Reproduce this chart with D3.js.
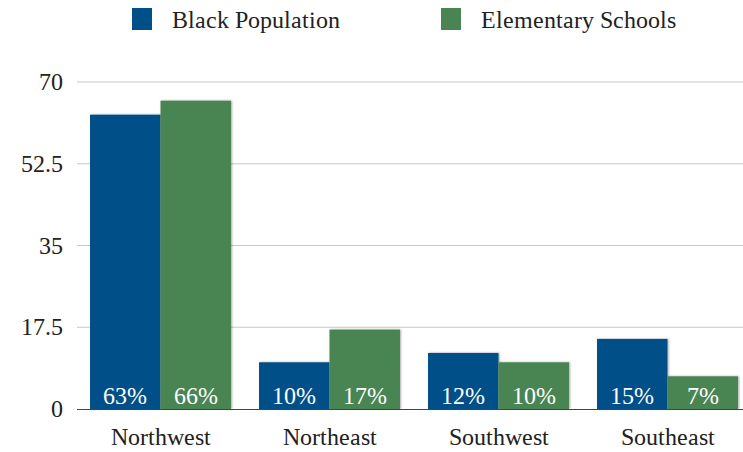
<!DOCTYPE html>
<html><head><meta charset="utf-8">
<script src="https://cdn.jsdelivr.net/npm/d3@7"></script>
<style>
@font-face{font-family:"RefSerif";src:local("Liberation Serif"),local("LiberationSerif"),local("Liberation Serif Regular"),local("LiberationSerif-Regular");}
body{margin:0;background:#fff;}
svg text{font-family:"RefSerif","Liberation Serif","Times New Roman",serif;}
</style>
</head><body>
<script>
const categories = ["Northwest","Northeast","Southwest","Southeast"];
const seriesNames = ["Black Population","Elementary Schools"];
const blackPop = [63,10,12,15];
const elemSchools = [66,17,10,7];
const yTicks = [0,17.5,35,52.5,70];
const colors = ["#005088","#4a8452"];

const W=743,H=452;
const svg=d3.select("body").append("svg").attr("width",W).attr("height",H);
const defs=svg.append("defs");
const f=defs.append("filter").attr("id","sh").attr("x","-10%").attr("y","-10%").attr("width","130%").attr("height","130%");
f.append("feDropShadow").attr("dx",1).attr("dy",0).attr("stdDeviation",1).attr("flood-color","#000").attr("flood-opacity",0.35);

const x=d3.scaleBand().domain(categories).range([76,752]).paddingInner(0.166).paddingOuter(0.083);
const x1=d3.scaleBand().domain(seriesNames).range([0,x.bandwidth()]);
const y=d3.scaleLinear().domain([0,70]).range([409,82]);

svg.append("g").selectAll("line").data(yTicks.filter(d=>d>0)).join("line")
  .attr("x1",77).attr("x2",W).attr("y1",d=>y(d)).attr("y2",d=>y(d))
  .attr("stroke","#c8c8c8").attr("stroke-width",1);

const yAxis=d3.axisLeft(y).tickValues(yTicks).tickFormat(d=>String(d)).tickSize(0).tickPadding(14);
const ya=svg.append("g").attr("transform","translate(77,0)").call(yAxis);
ya.select(".domain").remove();
ya.attr("font-family",null);
ya.selectAll("text").attr("fill","#222").attr("font-size",24);

const data=categories.map((c,i)=>({c,vals:[blackPop[i],elemSchools[i]]}));
const g=svg.append("g");
data.forEach(d=>{
  d.vals.forEach((v,j)=>{
    const bx=x(d.c)+x1(seriesNames[j]);
    g.append("rect").attr("x",bx).attr("y",y(v)).attr("width",x1.bandwidth()).attr("height",y(0)-y(v))
      .attr("fill",colors[j]).attr("filter","url(#sh)");
  });
});
data.forEach(d=>{
  d.vals.forEach((v,j)=>{
    const bx=x(d.c)+x1(seriesNames[j]);
    g.append("text").attr("x",bx+x1.bandwidth()/2).attr("y",404).attr("text-anchor","middle")
      .attr("font-size",24).attr("fill","#fff").text(v+"%");
  });
});

svg.append("line").attr("x1",77).attr("x2",W).attr("y1",y(0)+0.5).attr("y2",y(0)+0.5).attr("stroke","#444").attr("stroke-width",1);

const xAxis=d3.axisBottom(x).tickSize(0).tickPadding(19);
const xa=svg.append("g").attr("transform",`translate(0,${y(0)})`).call(xAxis);
xa.select(".domain").remove();
xa.attr("font-family",null);
xa.selectAll("text").attr("fill","#222").attr("font-size",24);

const legX=[132,441];
seriesNames.forEach((s,i)=>{
  svg.append("rect").attr("x",legX[i]).attr("y",8).attr("width",20).attr("height",22).attr("fill",colors[i]);
  svg.append("text").attr("x",legX[i]+40).attr("y",28).attr("font-size",24).attr("fill","#222").text(s);
});
</script>
</body></html>
